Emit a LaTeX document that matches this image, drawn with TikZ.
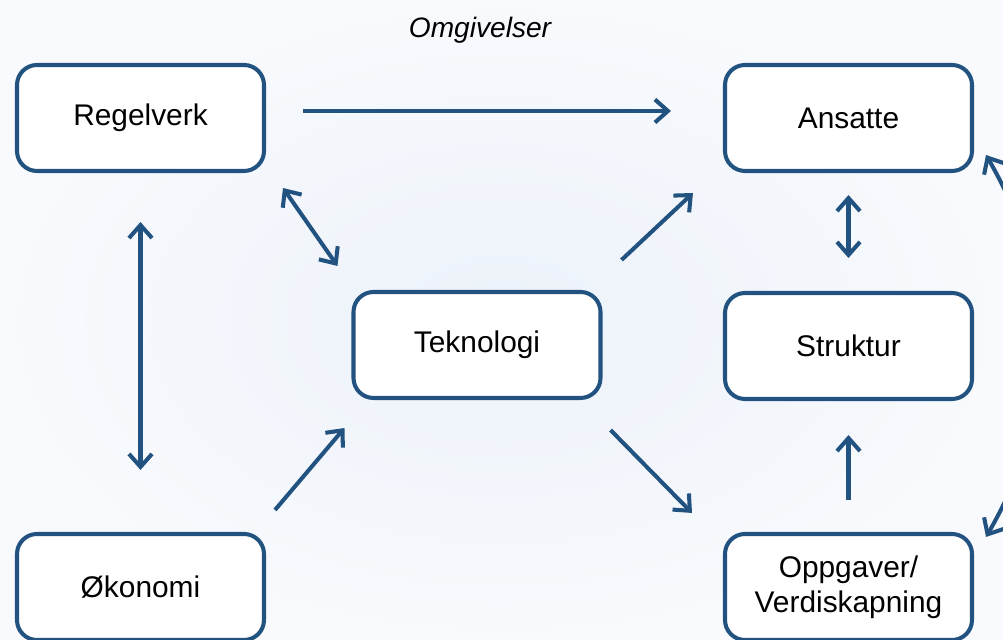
\documentclass[tikz,border=0pt]{standalone}
\usepackage{fontspec}
\setmainfont{Liberation Sans}
\usetikzlibrary{arrows.meta}
\definecolor{mork}{RGB}{33,82,128}
\definecolor{bakgrunn}{RGB}{236,242,250}
\definecolor{kant}{RGB}{248,250,253}
\tikzset{
  boks/.style={draw=mork, fill=white, line width=2.3pt, rounded corners=0.4cm,
    minimum width=4.94cm, minimum height=2.12cm, align=center,
    font=\fontsize{17}{20}\selectfont},
  pil/.style={draw=mork, line width=2.3pt, -{Straight Barb[length=2.6mm,width=4.6mm]}},
  dobbelpil/.style={pil, {Straight Barb[length=2.6mm,width=4.6mm]}-{Straight Barb[length=2.6mm,width=4.6mm]}}
}
\begin{document}
\begin{tikzpicture}
\useasboundingbox (0,0) rectangle (20.06,12.8);
\shade[inner color=bakgrunn, outer color=kant] (0,0) rectangle (20.06,12.8);

\node at (9.6,12.2) {\fontsize{16}{19}\selectfont\itshape Omgivelser};

\node[boks] (Regelverk) at (2.81,10.44) {Regelverk};
\node[boks] (Ansatte) at (16.97,10.44) {Ansatte};
\node[boks] (Teknologi) at (9.54,5.9) {Teknologi};
\node[boks] (Struktur) at (16.97,5.88) {Struktur};
\node[boks] (Okonomi) at (2.81,1.06) {Økonomi};
\node[boks] (Oppgaver) at (16.97,1.06) {Oppgaver/\\Verdiskapning};

\draw[pil] ([shift={(0.74,0.14)}]Regelverk.east) -- ([shift={(-1.04,0.14)}]Ansatte.west);
\draw[dobbelpil] ([shift={(0.34,-0.3)}]Regelverk.south east) -- ([shift={(-0.28,0.48)}]Teknologi.north west);
\draw[dobbelpil] ([yshift=-0.98cm]Regelverk.south) -- ([yshift=1.24cm]Okonomi.north);
\draw[pil] ([shift={(0.18,0.44)}]Okonomi.north east) -- ([shift={(-0.14,-0.56)}]Teknologi.south west);
\draw[pil] ([shift={(0.38,0.6)}]Teknologi.north east) -- ([shift={(-0.6,-0.4)}]Ansatte.south west);
\draw[pil] ([shift={(0.16,-0.6)}]Teknologi.south east) -- ([shift={(-0.62,0.38)}]Oppgaver.north west);
\draw[dobbelpil] ([yshift=-0.44cm]Ansatte.south) -- ([yshift=0.66cm]Struktur.north);
\draw[pil] ([yshift=0.64cm]Oppgaver.north) -- ([yshift=-0.68cm]Struktur.south);
\draw[dobbelpil] ([shift={(0.24,-0.1)}]Oppgaver.north east) to[bend right=30] ([shift={(0.24,0.36)}]Ansatte.south east);
\end{tikzpicture}
\end{document}
